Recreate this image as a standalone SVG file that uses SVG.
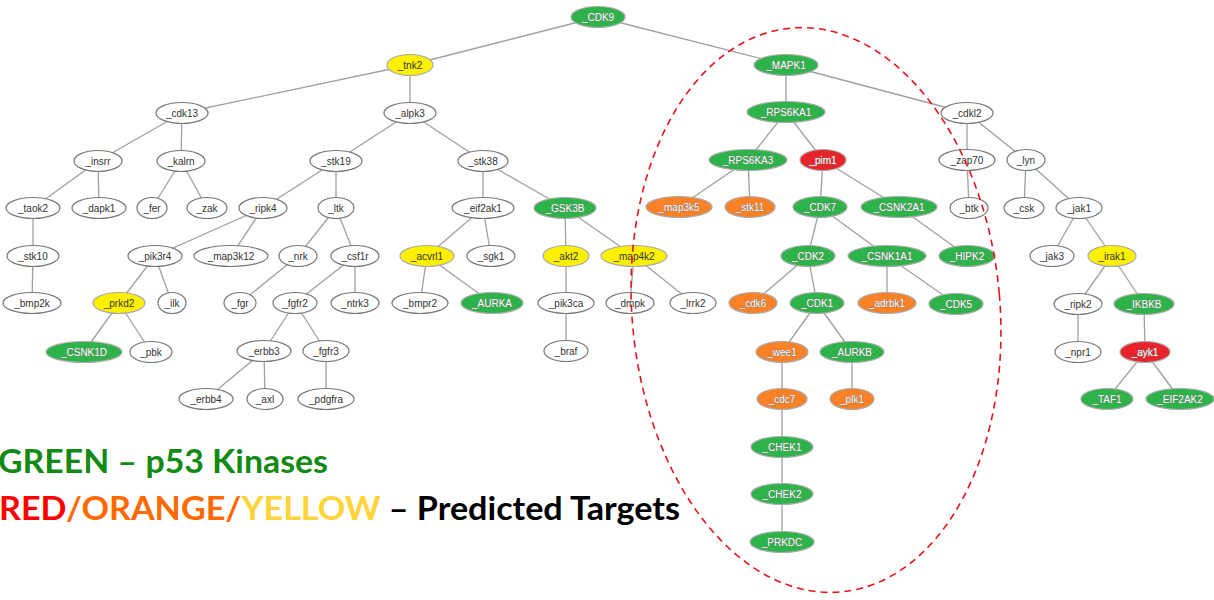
<svg xmlns="http://www.w3.org/2000/svg" width="1214" height="600" viewBox="0 0 1214 600">
<style>
.node ellipse{stroke-width:1.2}
.wh ellipse{fill:#fff;stroke:#777}
.gr ellipse{fill:#2db34a;stroke:#aaa}
.rd ellipse{fill:#e8232b;stroke:#aaa}
.or ellipse{fill:#fb8127;stroke:#aaa}
.ye ellipse{fill:#fdf100;stroke:#aaa}
.node text{font-family:"Liberation Sans",Arial,sans-serif;font-size:10px;text-anchor:middle}
.wh text,.ye text{fill:#333}
.gr text,.rd text,.or text{fill:#fff;stroke:#777;stroke-width:0.7;paint-order:stroke}
#edges line{stroke:#a0a0a0;stroke-width:1.3}
.legend{font-family:Lato,"Open Sans",sans-serif;font-weight:bold;font-size:33px}
</style>
<rect width="1214" height="600" fill="#fff"/>
<g id="edges">
<line x1="598" y1="17" x2="410" y2="65"/>
<line x1="598" y1="17" x2="786" y2="65"/>
<line x1="410" y1="65" x2="182" y2="113"/>
<line x1="410" y1="65" x2="410" y2="113"/>
<line x1="182" y1="113" x2="98" y2="161"/>
<line x1="182" y1="113" x2="181" y2="161"/>
<line x1="98" y1="161" x2="33" y2="208"/>
<line x1="98" y1="161" x2="99" y2="208"/>
<line x1="33" y1="208" x2="33" y2="256"/>
<line x1="33" y1="256" x2="32" y2="303"/>
<line x1="181" y1="161" x2="152" y2="208"/>
<line x1="181" y1="161" x2="207" y2="208"/>
<line x1="410" y1="113" x2="336" y2="161"/>
<line x1="410" y1="113" x2="483" y2="161"/>
<line x1="336" y1="161" x2="263" y2="208"/>
<line x1="336" y1="161" x2="336" y2="208"/>
<line x1="263" y1="208" x2="155" y2="256"/>
<line x1="263" y1="208" x2="231" y2="256"/>
<line x1="155" y1="256" x2="119" y2="303"/>
<line x1="155" y1="256" x2="172" y2="303"/>
<line x1="119" y1="303" x2="84" y2="352"/>
<line x1="119" y1="303" x2="151" y2="352"/>
<line x1="336" y1="208" x2="298" y2="256"/>
<line x1="336" y1="208" x2="355" y2="256"/>
<line x1="298" y1="256" x2="240" y2="303"/>
<line x1="355" y1="256" x2="295" y2="303"/>
<line x1="355" y1="256" x2="355" y2="303"/>
<line x1="295" y1="303" x2="264" y2="351"/>
<line x1="295" y1="303" x2="326" y2="351"/>
<line x1="264" y1="351" x2="206" y2="399"/>
<line x1="264" y1="351" x2="265" y2="399"/>
<line x1="326" y1="351" x2="326" y2="399"/>
<line x1="483" y1="161" x2="483" y2="208"/>
<line x1="483" y1="161" x2="565" y2="208"/>
<line x1="483" y1="208" x2="427" y2="256"/>
<line x1="483" y1="208" x2="491" y2="256"/>
<line x1="427" y1="256" x2="420" y2="303"/>
<line x1="427" y1="256" x2="492" y2="303"/>
<line x1="565" y1="208" x2="566" y2="256"/>
<line x1="565" y1="208" x2="634" y2="256"/>
<line x1="566" y1="256" x2="566" y2="303"/>
<line x1="566" y1="303" x2="566" y2="351"/>
<line x1="634" y1="256" x2="630" y2="303"/>
<line x1="634" y1="256" x2="693" y2="303"/>
<line x1="786" y1="65" x2="786" y2="112"/>
<line x1="786" y1="65" x2="967" y2="113"/>
<line x1="786" y1="112" x2="748" y2="160"/>
<line x1="786" y1="112" x2="823" y2="160"/>
<line x1="748" y1="160" x2="679" y2="207"/>
<line x1="748" y1="160" x2="750" y2="207"/>
<line x1="823" y1="160" x2="820" y2="207"/>
<line x1="823" y1="160" x2="899" y2="207"/>
<line x1="820" y1="207" x2="808" y2="256"/>
<line x1="820" y1="207" x2="887" y2="256"/>
<line x1="899" y1="207" x2="967" y2="256"/>
<line x1="808" y1="256" x2="753" y2="303"/>
<line x1="808" y1="256" x2="817" y2="303"/>
<line x1="817" y1="303" x2="782" y2="352"/>
<line x1="817" y1="303" x2="852" y2="352"/>
<line x1="782" y1="352" x2="782" y2="542"/>
<line x1="852" y1="352" x2="852" y2="399"/>
<line x1="887" y1="256" x2="887" y2="303"/>
<line x1="887" y1="256" x2="956" y2="304"/>
<line x1="967" y1="113" x2="967" y2="160"/>
<line x1="967" y1="113" x2="1026" y2="160"/>
<line x1="967" y1="160" x2="969" y2="208"/>
<line x1="1026" y1="160" x2="1024" y2="208"/>
<line x1="1026" y1="160" x2="1079" y2="208"/>
<line x1="1079" y1="208" x2="1052" y2="256"/>
<line x1="1079" y1="208" x2="1112" y2="256"/>
<line x1="1112" y1="256" x2="1078" y2="304"/>
<line x1="1112" y1="256" x2="1144" y2="304"/>
<line x1="1078" y1="304" x2="1078" y2="352"/>
<line x1="1144" y1="304" x2="1145" y2="352"/>
<line x1="1145" y1="352" x2="1107" y2="399"/>
<line x1="1145" y1="352" x2="1180" y2="399"/>
</g>
<g id="n-CDK9" class="node gr"><ellipse cx="598" cy="17" rx="27" ry="10.5"/><text x="598" y="20.5">_CDK9</text></g>
<g id="n-tnk2" class="node ye"><ellipse cx="410" cy="65" rx="23" ry="10.5"/><text x="410" y="68.5">_tnk2</text></g>
<g id="n-MAPK1" class="node gr"><ellipse cx="786" cy="65" rx="32" ry="10.5"/><text x="786" y="68.5">_MAPK1</text></g>
<g id="n-cdk13" class="node wh"><ellipse cx="182" cy="113" rx="26" ry="10.5"/><text x="182" y="116.5">_cdk13</text></g>
<g id="n-alpk3" class="node wh"><ellipse cx="410" cy="113" rx="26" ry="10.5"/><text x="410" y="116.5">_alpk3</text></g>
<g id="n-RPS6KA1" class="node gr"><ellipse cx="786" cy="112" rx="39" ry="10.5"/><text x="786" y="115.5">_RPS6KA1</text></g>
<g id="n-cdkl2" class="node wh"><ellipse cx="967" cy="113" rx="26" ry="10.5"/><text x="967" y="116.5">_cdkl2</text></g>
<g id="n-insrr" class="node wh"><ellipse cx="98" cy="161" rx="24" ry="10.5"/><text x="98" y="164.5">_insrr</text></g>
<g id="n-kalrn" class="node wh"><ellipse cx="181" cy="161" rx="24" ry="10.5"/><text x="181" y="164.5">_kalrn</text></g>
<g id="n-stk19" class="node wh"><ellipse cx="336" cy="161" rx="26" ry="10.5"/><text x="336" y="164.5">_stk19</text></g>
<g id="n-stk38" class="node wh"><ellipse cx="483" cy="161" rx="25" ry="10.5"/><text x="483" y="164.5">_stk38</text></g>
<g id="n-RPS6KA3" class="node gr"><ellipse cx="748" cy="160" rx="39" ry="10.5"/><text x="748" y="163.5">_RPS6KA3</text></g>
<g id="n-pim1" class="node rd"><ellipse cx="823" cy="160" rx="23" ry="10.5"/><text x="823" y="163.5">_pim1</text></g>
<g id="n-zap70" class="node wh"><ellipse cx="967" cy="160" rx="28" ry="10.5"/><text x="967" y="163.5">_zap70</text></g>
<g id="n-lyn" class="node wh"><ellipse cx="1026" cy="160" rx="19" ry="10.5"/><text x="1026" y="163.5">_lyn</text></g>
<g id="n-taok2" class="node wh"><ellipse cx="33" cy="208" rx="27" ry="10.5"/><text x="33" y="211.5">_taok2</text></g>
<g id="n-dapk1" class="node wh"><ellipse cx="99" cy="208" rx="27" ry="10.5"/><text x="99" y="211.5">_dapk1</text></g>
<g id="n-fer" class="node wh"><ellipse cx="152" cy="208" rx="15" ry="10.5"/><text x="152" y="211.5">_fer</text></g>
<g id="n-zak" class="node wh"><ellipse cx="207" cy="208" rx="20" ry="10.5"/><text x="207" y="211.5">_zak</text></g>
<g id="n-ripk4" class="node wh"><ellipse cx="263" cy="208" rx="24" ry="10.5"/><text x="263" y="211.5">_ripk4</text></g>
<g id="n-ltk" class="node wh"><ellipse cx="336" cy="208" rx="18" ry="10.5"/><text x="336" y="211.5">_ltk</text></g>
<g id="n-eif2ak1" class="node wh"><ellipse cx="483" cy="208" rx="31" ry="10.5"/><text x="483" y="211.5">_eif2ak1</text></g>
<g id="n-GSK3B" class="node gr"><ellipse cx="565" cy="208" rx="31" ry="10.5"/><text x="565" y="211.5">_GSK3B</text></g>
<g id="n-map3k5" class="node or"><ellipse cx="679" cy="207" rx="33" ry="10.5"/><text x="679" y="210.5">_map3k5</text></g>
<g id="n-stk11" class="node or"><ellipse cx="750" cy="207" rx="25" ry="10.5"/><text x="750" y="210.5">_stk11</text></g>
<g id="n-CDK7" class="node gr"><ellipse cx="820" cy="207" rx="27" ry="10.5"/><text x="820" y="210.5">_CDK7</text></g>
<g id="n-CSNK2A1" class="node gr"><ellipse cx="899" cy="207" rx="38" ry="10.5"/><text x="899" y="210.5">_CSNK2A1</text></g>
<g id="n-btk" class="node wh"><ellipse cx="969" cy="208" rx="19" ry="10.5"/><text x="969" y="211.5">_btk</text></g>
<g id="n-csk" class="node wh"><ellipse cx="1024" cy="208" rx="20" ry="10.5"/><text x="1024" y="211.5">_csk</text></g>
<g id="n-jak1" class="node wh"><ellipse cx="1079" cy="208" rx="23" ry="10.5"/><text x="1079" y="211.5">_jak1</text></g>
<g id="n-stk10" class="node wh"><ellipse cx="33" cy="256" rx="26" ry="10.5"/><text x="33" y="259.5">_stk10</text></g>
<g id="n-pik3r4" class="node wh"><ellipse cx="155" cy="256" rx="27" ry="10.5"/><text x="155" y="259.5">_pik3r4</text></g>
<g id="n-map3k12" class="node wh"><ellipse cx="231" cy="256" rx="37" ry="10.5"/><text x="231" y="259.5">_map3k12</text></g>
<g id="n-nrk" class="node wh"><ellipse cx="298" cy="256" rx="19" ry="10.5"/><text x="298" y="259.5">_nrk</text></g>
<g id="n-csf1r" class="node wh"><ellipse cx="355" cy="256" rx="24" ry="10.5"/><text x="355" y="259.5">_csf1r</text></g>
<g id="n-acvrl1" class="node ye"><ellipse cx="427" cy="256" rx="27" ry="10.5"/><text x="427" y="259.5">_acvrl1</text></g>
<g id="n-sgk1" class="node wh"><ellipse cx="491" cy="256" rx="24" ry="10.5"/><text x="491" y="259.5">_sgk1</text></g>
<g id="n-akt2" class="node ye"><ellipse cx="566" cy="256" rx="23" ry="10.5"/><text x="566" y="259.5">_akt2</text></g>
<g id="n-map4k2" class="node ye"><ellipse cx="634" cy="256" rx="33" ry="10.5"/><text x="634" y="259.5">_map4k2</text></g>
<g id="n-CDK2" class="node gr"><ellipse cx="808" cy="256" rx="27" ry="10.5"/><text x="808" y="259.5">_CDK2</text></g>
<g id="n-CSNK1A1" class="node gr"><ellipse cx="887" cy="256" rx="39" ry="10.5"/><text x="887" y="259.5">_CSNK1A1</text></g>
<g id="n-HIPK2" class="node gr"><ellipse cx="967" cy="256" rx="28" ry="10.5"/><text x="967" y="259.5">_HIPK2</text></g>
<g id="n-jak3" class="node wh"><ellipse cx="1052" cy="256" rx="22" ry="10.5"/><text x="1052" y="259.5">_jak3</text></g>
<g id="n-irak1" class="node ye"><ellipse cx="1112" cy="256" rx="24" ry="10.5"/><text x="1112" y="259.5">_irak1</text></g>
<g id="n-bmp2k" class="node wh"><ellipse cx="32" cy="303" rx="29" ry="10.5"/><text x="32" y="306.5">_bmp2k</text></g>
<g id="n-prkd2" class="node ye"><ellipse cx="119" cy="303" rx="26" ry="10.5"/><text x="119" y="306.5">_prkd2</text></g>
<g id="n-ilk" class="node wh"><ellipse cx="172" cy="303" rx="14" ry="10.5"/><text x="172" y="306.5">_ilk</text></g>
<g id="n-fgr" class="node wh"><ellipse cx="240" cy="303" rx="16" ry="10.5"/><text x="240" y="306.5">_fgr</text></g>
<g id="n-fgfr2" class="node wh"><ellipse cx="295" cy="303" rx="22" ry="10.5"/><text x="295" y="306.5">_fgfr2</text></g>
<g id="n-ntrk3" class="node wh"><ellipse cx="355" cy="303" rx="24" ry="10.5"/><text x="355" y="306.5">_ntrk3</text></g>
<g id="n-bmpr2" class="node wh"><ellipse cx="420" cy="303" rx="28" ry="10.5"/><text x="420" y="306.5">_bmpr2</text></g>
<g id="n-AURKA" class="node gr"><ellipse cx="492" cy="303" rx="31" ry="10.5"/><text x="492" y="306.5">_AURKA</text></g>
<g id="n-pik3ca" class="node wh"><ellipse cx="566" cy="303" rx="28" ry="10.5"/><text x="566" y="306.5">_pik3ca</text></g>
<g id="n-dmpk" class="node wh"><ellipse cx="630" cy="303" rx="24" ry="10.5"/><text x="630" y="306.5">_dmpk</text></g>
<g id="n-lrrk2" class="node wh"><ellipse cx="693" cy="303" rx="23" ry="10.5"/><text x="693" y="306.5">_lrrk2</text></g>
<g id="n-cdk6" class="node or"><ellipse cx="753" cy="303" rx="24" ry="10.5"/><text x="753" y="306.5">_cdk6</text></g>
<g id="n-CDK1" class="node gr"><ellipse cx="817" cy="303" rx="27" ry="10.5"/><text x="817" y="306.5">_CDK1</text></g>
<g id="n-adrbk1" class="node or"><ellipse cx="887" cy="303" rx="29" ry="10.5"/><text x="887" y="306.5">_adrbk1</text></g>
<g id="n-CDK5" class="node gr"><ellipse cx="956" cy="304" rx="27" ry="10.5"/><text x="956" y="307.5">_CDK5</text></g>
<g id="n-ripk2" class="node wh"><ellipse cx="1078" cy="304" rx="24" ry="10.5"/><text x="1078" y="307.5">_ripk2</text></g>
<g id="n-IKBKB" class="node gr"><ellipse cx="1144" cy="304" rx="30" ry="10.5"/><text x="1144" y="307.5">_IKBKB</text></g>
<g id="n-CSNK1D" class="node gr"><ellipse cx="84" cy="352" rx="38" ry="10.5"/><text x="84" y="355.5">_CSNK1D</text></g>
<g id="n-pbk" class="node wh"><ellipse cx="151" cy="352" rx="21" ry="10.5"/><text x="151" y="355.5">_pbk</text></g>
<g id="n-erbb3" class="node wh"><ellipse cx="264" cy="351" rx="27" ry="10.5"/><text x="264" y="354.5">_erbb3</text></g>
<g id="n-fgfr3" class="node wh"><ellipse cx="326" cy="351" rx="23" ry="10.5"/><text x="326" y="354.5">_fgfr3</text></g>
<g id="n-braf" class="node wh"><ellipse cx="566" cy="351" rx="22" ry="10.5"/><text x="566" y="354.5">_braf</text></g>
<g id="n-wee1" class="node or"><ellipse cx="782" cy="352" rx="26" ry="10.5"/><text x="782" y="355.5">_wee1</text></g>
<g id="n-AURKB" class="node gr"><ellipse cx="852" cy="352" rx="32" ry="10.5"/><text x="852" y="355.5">_AURKB</text></g>
<g id="n-npr1" class="node wh"><ellipse cx="1078" cy="352" rx="23" ry="10.5"/><text x="1078" y="355.5">_npr1</text></g>
<g id="n-ayk1" class="node rd"><ellipse cx="1145" cy="352" rx="25" ry="10.5"/><text x="1145" y="355.5">_ayk1</text></g>
<g id="n-erbb4" class="node wh"><ellipse cx="206" cy="399" rx="27" ry="10.5"/><text x="206" y="402.5">_erbb4</text></g>
<g id="n-axl" class="node wh"><ellipse cx="265" cy="399" rx="18" ry="10.5"/><text x="265" y="402.5">_axl</text></g>
<g id="n-pdgfra" class="node wh"><ellipse cx="326" cy="399" rx="28" ry="10.5"/><text x="326" y="402.5">_pdgfra</text></g>
<g id="n-cdc7" class="node or"><ellipse cx="782" cy="399" rx="25" ry="10.5"/><text x="782" y="402.5">_cdc7</text></g>
<g id="n-plk1" class="node or"><ellipse cx="852" cy="399" rx="22" ry="10.5"/><text x="852" y="402.5">_plk1</text></g>
<g id="n-TAF1" class="node gr"><ellipse cx="1107" cy="399" rx="26" ry="10.5"/><text x="1107" y="402.5">_TAF1</text></g>
<g id="n-EIF2AK2" class="node gr"><ellipse cx="1180" cy="399" rx="34" ry="10.5"/><text x="1180" y="402.5">_EIF2AK2</text></g>
<g id="n-CHEK1" class="node gr"><ellipse cx="782" cy="447" rx="31" ry="10.5"/><text x="782" y="450.5">_CHEK1</text></g>
<g id="n-CHEK2" class="node gr"><ellipse cx="782" cy="494" rx="31" ry="10.5"/><text x="782" y="497.5">_CHEK2</text></g>
<g id="n-PRKDC" class="node gr"><ellipse cx="782" cy="542" rx="32" ry="10.5"/><text x="782" y="545.5">_PRKDC</text></g>
<ellipse id="highlight" cx="816" cy="310" rx="184" ry="283" transform="rotate(-5 816 310)" fill="none" stroke="#e8141b" stroke-width="1.6" stroke-dasharray="7 5"/>
<g id="legend">
<text class="legend" x="-2" y="473" fill="#138a13" textLength="330" lengthAdjust="spacingAndGlyphs">GREEN – p53 Kinases</text>
<text class="legend" x="-1" y="520" textLength="681" lengthAdjust="spacingAndGlyphs"><tspan fill="#ff0000">RED</tspan><tspan fill="#ff6a00">/ORANGE/</tspan><tspan fill="#ffd43b">YELLOW</tspan><tspan fill="#000"> – Predicted Targets</tspan></text>
</g>
</svg>
